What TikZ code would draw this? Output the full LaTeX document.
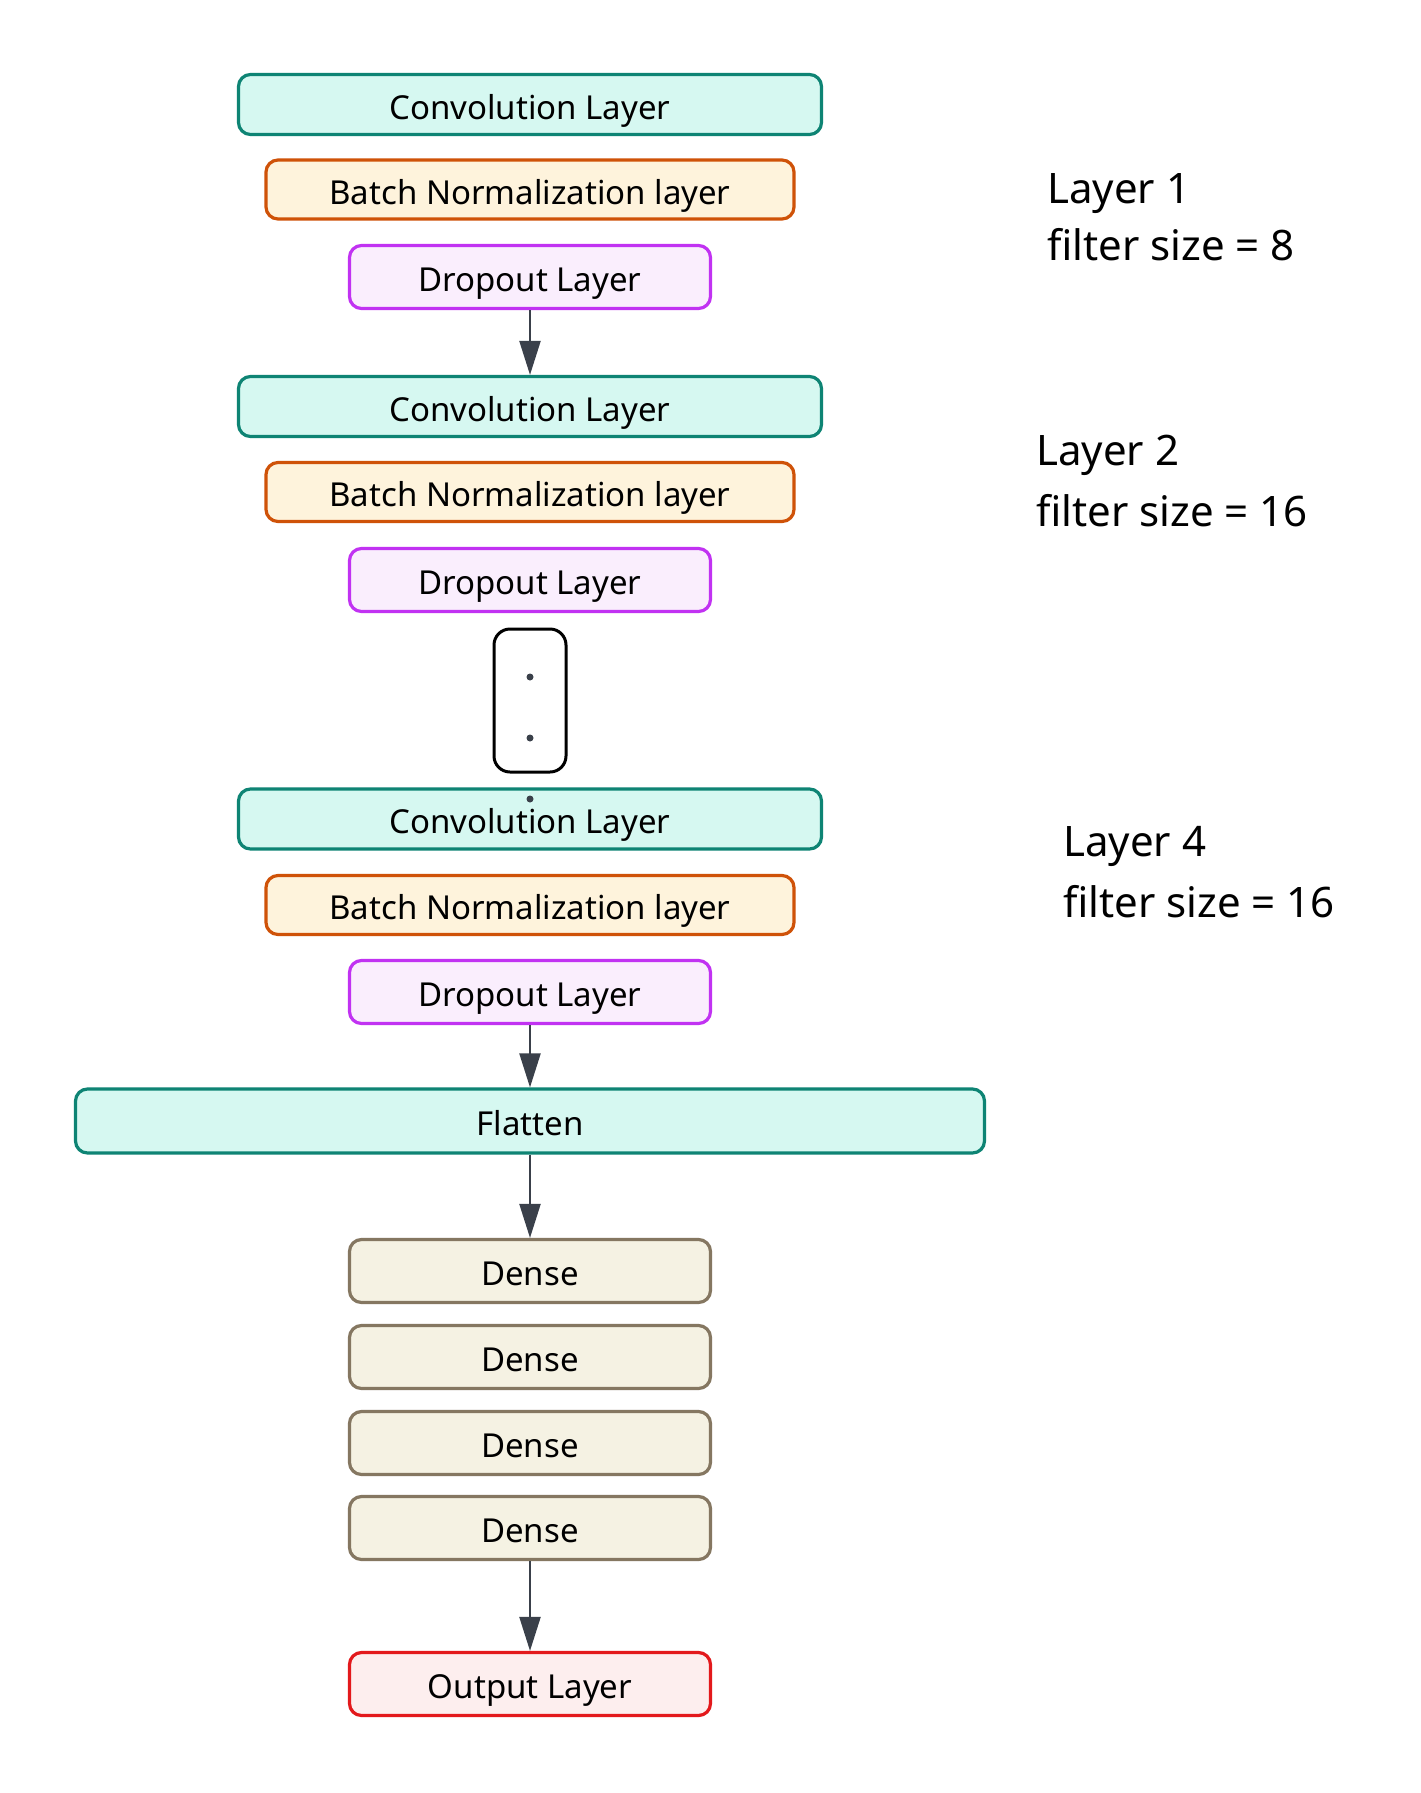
\documentclass[tikz,border=0pt]{standalone}
\usepackage{fontspec}
\setmainfont{Noto Sans}
\usetikzlibrary{arrows.meta}
\definecolor{convfill}{HTML}{D6F8F1}
\definecolor{convdraw}{HTML}{0E8474}
\definecolor{bnfill}{HTML}{FEF3DC}
\definecolor{bndraw}{HTML}{CF5208}
\definecolor{dpfill}{HTML}{FAEEFD}
\definecolor{dpdraw}{HTML}{C132F2}
\definecolor{dnfill}{HTML}{F5F2E3}
\definecolor{dndraw}{HTML}{857761}
\definecolor{outfill}{HTML}{FDEEEE}
\definecolor{outdraw}{HTML}{E3191C}
\definecolor{arrowc}{HTML}{3A404A}
\begin{document}
\begin{tikzpicture}[x=1pt,y=-1pt,
  box/.style={draw, rounded corners=12pt, line width=3.2pt, inner sep=0pt,
    text height=30pt, text depth=0.4pt,
    font=\fontsize{33}{40}\selectfont, text=black},
  conv/.style={box, fill=convfill, draw=convdraw, minimum width=583pt, minimum height=60pt},
  bn/.style={box, fill=bnfill, draw=bndraw, minimum width=528pt, minimum height=59pt},
  dp/.style={box, fill=dpfill, draw=dpdraw, minimum width=361pt, minimum height=63pt},
  flat/.style={conv, minimum width=909pt, minimum height=64pt},
  dense/.style={box, fill=dnfill, draw=dndraw, minimum width=361pt, minimum height=63pt},
  outl/.style={box, fill=outfill, draw=outdraw, minimum width=361pt, minimum height=63pt},
  arr/.style={draw=arrowc, line width=2.2pt, -{Triangle[length=34pt,width=21pt]}},
  dotn/.style={circle, fill=arrowc, inner sep=0pt, minimum size=7pt},
  lab/.style={anchor=base west, inner sep=0pt, font=\fontsize{42}{50}\selectfont}
]
\useasboundingbox (0,0) rectangle (1421,1793);
\fill[white] (0,0) rectangle (1421,1793);

% block 1
\node[conv] (c1) at (530,104.5) {Convolution Layer};
\node[bn]   (b1) at (530,189.5) {Batch Normalization layer};
\node[dp]   (d1) at (530,277)   {Dropout Layer};
% block 2
\node[conv] (c2) at (530,406.5) {Convolution Layer};
\node[bn]   (b2) at (530,492)   {Batch Normalization layer};
\node[dp]   (d2) at (530,580)   {Dropout Layer};
% ellipsis box
\node[draw=black, line width=3pt, rounded corners=16pt, minimum width=72pt, minimum height=143pt, inner sep=0pt] (gap) at (530,700.5) {};
\node[dotn] (dt1) at (530,677) {};
\node[dotn] (dt2) at (530,738) {};
% block 4
\node[conv] (c3) at (530,819) {Convolution Layer};
\node[dotn] (dt3) at (530,799) {};
\node[bn]   (b3) at (530,905)   {Batch Normalization layer};
\node[dp]   (d3) at (530,992)   {Dropout Layer};
% flatten + dense
\node[flat] (fl) at (530,1121) {Flatten};
\node[dense] (e1) at (530,1271) {Dense};
\node[dense] (e2) at (530,1357) {Dense};
\node[dense] (e3) at (530,1443) {Dense};
\node[dense] (e4) at (530,1528) {Dense};
\node[outl]  (out) at (530,1684) {Output Layer};

% connectors
\draw[arr] (d1.south) -- (c2.north);
\draw[arr] (d3.south) -- (fl.north);
\draw[arr] (fl.south) -- (e1.north);
\draw[arr] (e4.south) -- (out.north);

% labels
\node[lab] (l1a) at (1047,203) {Layer 1};
\node[lab] (l1b) at (1047,260) {filter size = 8};
\node[lab] (l2a) at (1036,465) {Layer 2};
\node[lab] (l2b) at (1036,526) {filter size = 16};
\node[lab] (l4a) at (1063,856) {Layer 4};
\node[lab] (l4b) at (1063,917) {filter size = 16};
\end{tikzpicture}
\end{document}
